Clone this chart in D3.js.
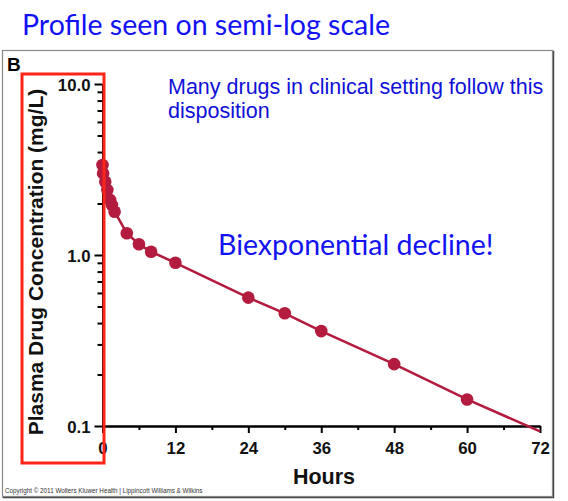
<!DOCTYPE html>
<html>
<head>
<meta charset="utf-8">
<script src="https://cdn.jsdelivr.net/npm/d3@7"></script>
<style>
  html, body { margin: 0; padding: 0; background: #fff; }
  svg { display: block; }
</style>
</head>
<body>
<div id="chart"></div>
<script>
// Perfil plasmático en escala semilog
const HOURS = [0, 0.1, 0.45, 0.8, 1.25, 1.55, 2, 4, 6, 8, 12, 24, 30, 36, 48, 60];
const CONC  = [3.36, 3.0, 2.68, 2.4, 2.1, 1.96, 1.79, 1.34, 1.155, 1.045, 0.90, 0.563, 0.456, 0.359, 0.23, 0.143];
// la recta terminal sigue hasta 72 h
const TAIL_HOURS = [72];
const TAIL_CONC  = [0.093];

const X_TICKS = [0, 12, 24, 36, 48, 60, 72];
const X_MINOR = [6, 18, 30, 42, 54, 66];
const Y_TICKS = [0.1, 1, 10];
const Y_MINOR = [0.2, 0.3, 0.4, 0.5, 0.6, 0.7, 0.8, 0.9, 2, 3, 4, 5, 6, 7, 8, 9];

const W = 568, H = 501;
const HELV = "'Liberation Sans', Arial, sans-serif";
const CALI = "Lato, 'Open Sans', sans-serif";
const RED = "#b31b3f";

const svg = d3.select("#chart").append("svg").attr("width", W).attr("height", H);

// título fuera del marco
svg.append("text")
  .attr("x", 22).attr("y", 35)
  .attr("font-family", CALI).attr("font-size", 28.5)
  .attr("fill", "#1212f2")
  .text("Profile seen on semi-log scale");

// marco con sombra
svg.append("rect").attr("x", 3.5).attr("y", 51.5).attr("width", 550).attr("height", 446)
  .attr("fill", "none").attr("stroke", "#444").attr("stroke-width", 1.5);
svg.append("rect").attr("x", 2.5).attr("y", 50.5).attr("width", 550).attr("height", 446)
  .attr("fill", "#fff").attr("stroke", "#888").attr("stroke-width", 1.2);

svg.append("text")
  .attr("x", 7).attr("y", 71)
  .attr("font-family", HELV).attr("font-weight", "bold").attr("font-size", 19)
  .text("B");

const x = d3.scaleLinear().domain([0, 72]).range([102.5, 540]);
const y = d3.scaleLog().domain([0.1, 10]).range([426, 84]);

// ejes
const gx = svg.append("g").attr("transform", `translate(0,${y(0.1)})`);
gx.call(d3.axisBottom(x).tickValues(X_TICKS).tickSize(7).tickPadding(8).tickSizeOuter(0).tickFormat(d3.format("d")));
const gxm = svg.append("g").attr("transform", `translate(0,${y(0.1)})`);
gxm.call(d3.axisBottom(x).tickValues(X_MINOR).tickSize(4).tickSizeOuter(0).tickFormat(""));

const gy = svg.append("g").attr("transform", `translate(${x(0)},0)`);
gy.call(d3.axisLeft(y).tickValues(Y_TICKS).tickSize(8).tickPadding(4).tickSizeOuter(0).tickFormat(d3.format(".1f")));
const gym = svg.append("g").attr("transform", `translate(${x(0)},0)`);
gym.call(d3.axisLeft(y).tickValues(Y_MINOR).tickSize(5).tickSizeOuter(0).tickFormat(""));

[gx, gxm, gy, gym].forEach(g => {
  g.select(".domain").attr("stroke", "#000").attr("stroke-width", 2);
  g.selectAll(".tick line").attr("stroke", "#000").attr("stroke-width", 2);
  g.selectAll(".tick text")
    .attr("font-family", HELV).attr("font-weight", "bold").attr("font-size", 16.8).attr("fill", "#111");
});
gx.selectAll(".tick text").attr("dy", "0.75em");
gy.selectAll(".tick text").attr("dy", "0.36em");

// títulos de ejes
svg.append("text")
  .attr("transform", `translate(43,${262}) rotate(-90)`)
  .attr("text-anchor", "middle")
  .attr("font-family", HELV).attr("font-weight", "bold").attr("font-size", 21)
  .attr("fill", "#111")
  .text("Plasma Drug Concentration (mg/L)");

svg.append("text")
  .attr("x", 324).attr("y", 484)
  .attr("text-anchor", "middle")
  .attr("font-family", HELV).attr("font-weight", "bold").attr("font-size", 21.5)
  .attr("fill", "#111")
  .text("Hours");

// línea + puntos
const pts = HOURS.map((h, i) => ({ h, c: CONC[i] }));
const linePts = pts.concat(TAIL_HOURS.map((h, i) => ({ h, c: TAIL_CONC[i] })));

svg.append("path")
  .datum(linePts)
  .attr("fill", "none")
  .attr("stroke", RED)
  .attr("stroke-width", 2.6)
  .attr("d", d3.line().x(d => x(d.h)).y(d => y(d.c)));

svg.append("g").selectAll("circle")
  .data(pts)
  .join("circle")
    .attr("cx", d => x(d.h))
    .attr("cy", d => y(d.c))
    .attr("r", 6.3)
    .attr("fill", RED);

// anotaciones
const note = svg.append("text")
  .attr("font-family", HELV).attr("font-size", 21.5).attr("fill", "#1010d8");
note.append("tspan").attr("x", 168).attr("y", 94).text("Many drugs in clinical setting follow this");
note.append("tspan").attr("x", 168).attr("y", 118).text("disposition");

svg.append("text")
  .attr("x", 218).attr("y", 255)
  .attr("font-family", CALI).attr("font-size", 28.5)
  .attr("fill", "#1212f2")
  .text("Biexponential decline!");

// recuadro rojo sobre el eje Y
svg.append("rect")
  .attr("x", 22).attr("y", 74).attr("width", 82).attr("height", 389)
  .attr("fill", "none").attr("stroke", "#ff2418").attr("stroke-width", 3);

svg.append("text")
  .attr("x", 5).attr("y", 493)
  .attr("font-family", HELV).attr("font-size", 6.3).attr("fill", "#333")
  .text("Copyright © 2011 Wolters Kluwer Health | Lippincott Williams & Wilkins");
</script>
</body>
</html>
